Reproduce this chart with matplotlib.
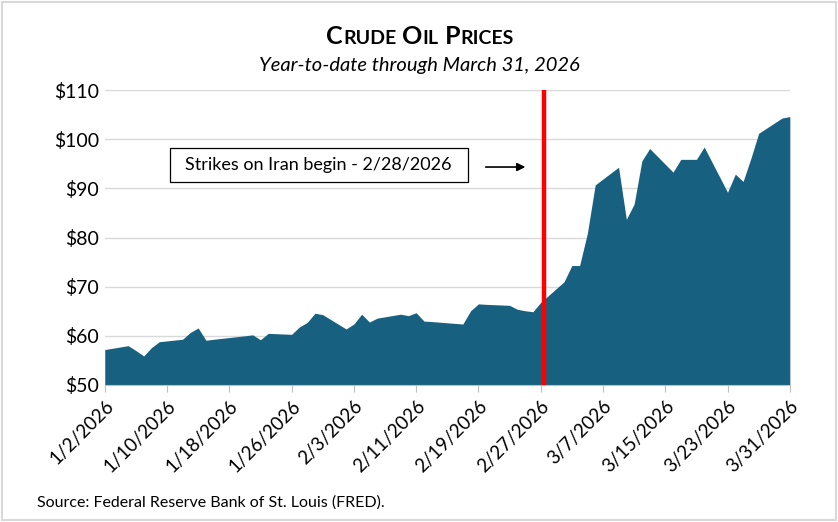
import matplotlib
matplotlib.use("Agg")
import matplotlib.pyplot as plt
import numpy as np
from matplotlib.patches import Rectangle

plt.rcParams['font.family'] = ['Lato', 'DejaVu Sans']

# daily WTI closes (trading days only)
dates = ['2026-01-02', '2026-01-05', '2026-01-06', '2026-01-07', '2026-01-08', '2026-01-09',
         '2026-01-12', '2026-01-13', '2026-01-14', '2026-01-15', '2026-01-16',
         '2026-01-20', '2026-01-21', '2026-01-22', '2026-01-23',
         '2026-01-26', '2026-01-27', '2026-01-28', '2026-01-29', '2026-01-30',
         '2026-02-02', '2026-02-03', '2026-02-04', '2026-02-05', '2026-02-06',
         '2026-02-09', '2026-02-10', '2026-02-11', '2026-02-12', '2026-02-13',
         '2026-02-17', '2026-02-18', '2026-02-19', '2026-02-20',
         '2026-02-23', '2026-02-24', '2026-02-25', '2026-02-26', '2026-02-27',
         '2026-03-02', '2026-03-03', '2026-03-04', '2026-03-05', '2026-03-06',
         '2026-03-09', '2026-03-10', '2026-03-11', '2026-03-12', '2026-03-13',
         '2026-03-16', '2026-03-17', '2026-03-18', '2026-03-19', '2026-03-20',
         '2026-03-23', '2026-03-24', '2026-03-25', '2026-03-26', '2026-03-27',
         '2026-03-30', '2026-03-31']
prices = [57.2, 58.0, 57.0, 55.9, 57.6, 58.8,
          59.3, 60.7, 61.6, 59.1, 59.3,
          60.0, 60.2, 59.2, 60.5,
          60.3, 61.8, 62.7, 64.6, 64.3,
          61.4, 62.4, 64.4, 62.8, 63.6,
          64.4, 64.1, 64.7, 63.0, 62.9,
          62.4, 65.1, 66.5, 66.4,
          66.2, 65.4, 65.1, 64.9, 66.8,
          71.0, 74.3, 74.3, 80.9, 90.7,
          94.3, 83.7, 86.8, 95.6, 98.1,
          93.3, 95.9, 95.9, 95.9, 98.4,
          89.2, 92.9, 91.4, 96.1, 101.2,
          104.3, 104.6]

tick_dates = ['2026-01-02', '2026-01-10', '2026-01-18', '2026-01-26', '2026-02-03', '2026-02-11',
              '2026-02-19', '2026-02-27', '2026-03-07', '2026-03-15', '2026-03-23', '2026-03-31']
tick_labels = ['1/2/2026', '1/10/2026', '1/18/2026', '1/26/2026', '2/3/2026', '2/11/2026',
               '2/19/2026', '2/27/2026', '3/7/2026', '3/15/2026', '3/23/2026', '3/31/2026']
y_ticks = [50, 60, 70, 80, 90, 100, 110]
y_labels = ['$50', '$60', '$70', '$80', '$90', '$100', '$110']
strike_date = '2026-02-27'

x = np.array(dates, dtype='datetime64[D]')
xt = np.array(tick_dates, dtype='datetime64[D]')

fig = plt.figure(figsize=(8.38, 5.22), dpi=100)
ax = fig.add_axes([0.125, 0.2625, 0.8175, 0.565])

ax.fill_between(x, prices, 50, color='#17607f', linewidth=0, zorder=2)
ax.axvline(np.datetime64(strike_date) + np.timedelta64(10, 'h'), color='#ff0000',
           linewidth=3.2, zorder=3)

ax.set_ylim(50, 110)
ax.set_xlim(x[0], x[-1])
ax.set_yticks(y_ticks)
ax.set_yticklabels(y_labels)
ax.set_xticks(xt)
ax.set_xticklabels(tick_labels, rotation=45, ha='right', rotation_mode='anchor')
ax.grid(axis='y', color='#d9d9d9', linewidth=1)
ax.set_axisbelow(True)

for s in ['top', 'right', 'left']:
    ax.spines[s].set_visible(False)
ax.spines['bottom'].set_color('#bfbfbf')
ax.tick_params(axis='y', length=0, labelsize=14, pad=4, colors='black')
ax.tick_params(axis='x', length=5, color='#bfbfbf', labelsize=13.5, pad=4)

# annotation box + arrow
ax.add_patch(Rectangle((0.095, 0.688), 0.435, 0.115, transform=ax.transAxes,
                       facecolor='white', edgecolor='black', linewidth=0.9, zorder=4))
ax.text(0.312, 0.746, 'Strikes on Iran begin - 2/28/2026', transform=ax.transAxes,
        ha='center', va='center', fontsize=13, zorder=5)
ax.annotate('', xy=(0.618, 0.739), xytext=(0.552, 0.739), xycoords='axes fraction',
            arrowprops=dict(arrowstyle='-|>', color='black', lw=1.2, mutation_scale=12))

# small-caps title built from pieces
pieces = [('C', 18), ('RUDE', 14), (' O', 18), ('IL', 14), (' P', 18), ('RICES', 14)]
renderer = fig.canvas.get_renderer()
texts = []
widths = []
for s, fs in pieces:
    t = fig.text(0, 0, s, fontsize=fs, fontweight='bold', ha='left', va='baseline')
    texts.append(t)
    widths.append(t.get_window_extent(renderer).width)
total = sum(widths)
xpos = 420 - total / 2
for t, w in zip(texts, widths):
    t.set_position((xpos / 838, 1 - 44 / 522))
    xpos += w

fig.text(0.5, 1 - 66 / 522, 'Year-to-date through March 31, 2026', ha='center', va='center',
         fontsize=14.5, fontstyle='italic')
fig.text(37 / 838, 1 - 503 / 522, 'Source: Federal Reserve Bank of St. Louis (FRED).',
         ha='left', va='center', fontsize=11.5)

fig.add_artist(Rectangle((0.002, 0.003), 0.996, 0.994, transform=fig.transFigure,
                         facecolor='none', edgecolor='#d9d9d9', linewidth=1.5))

fig.savefig('out.png', dpi=100)
